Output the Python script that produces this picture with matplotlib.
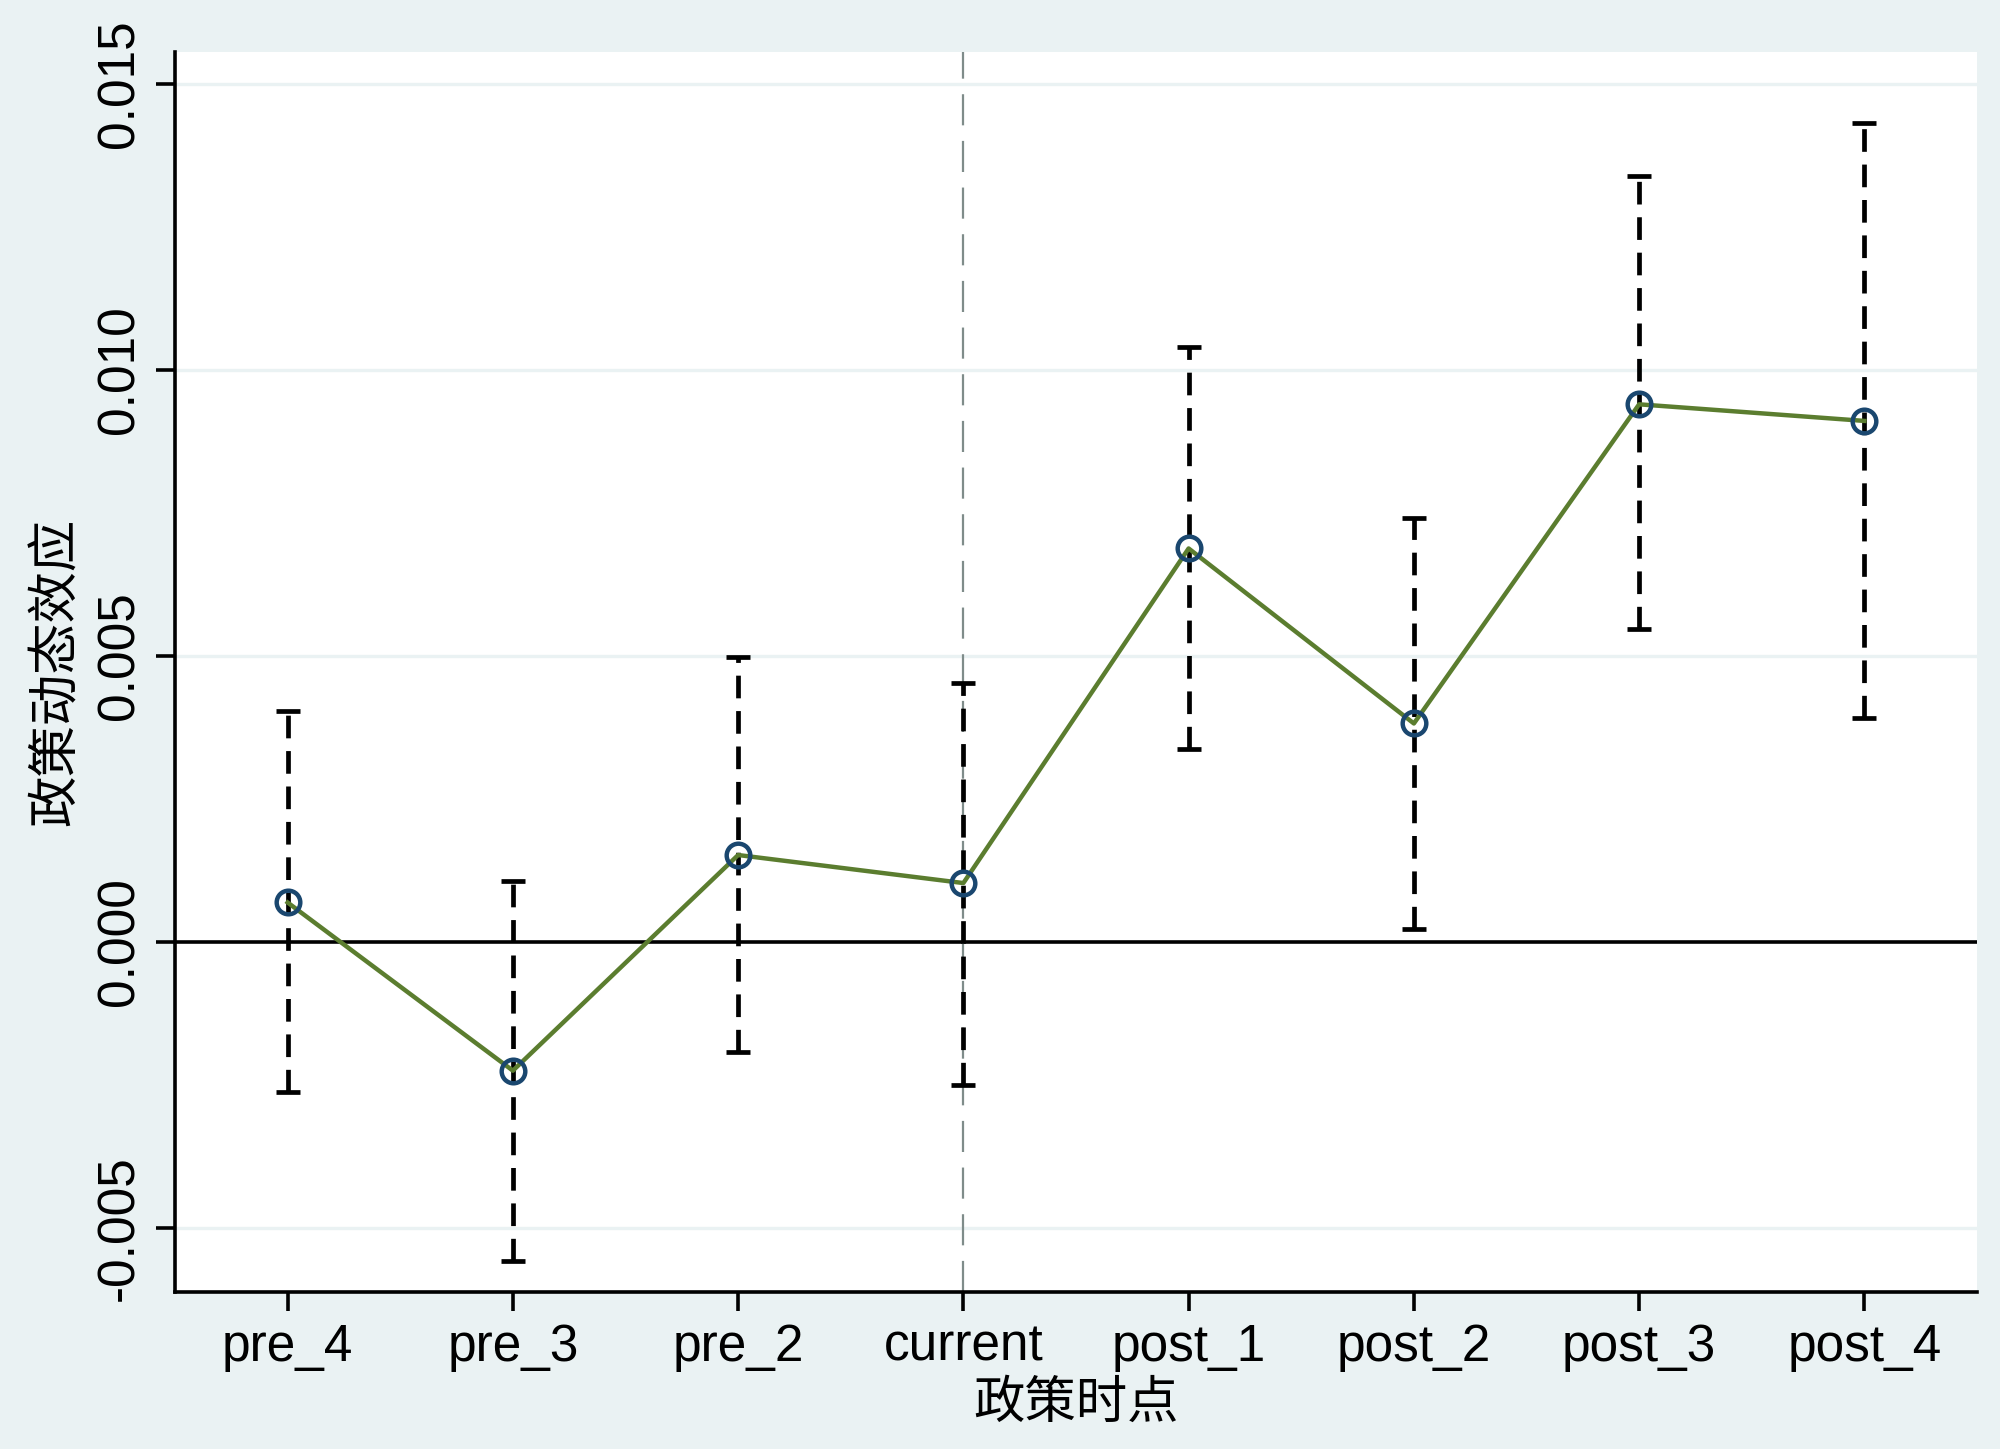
"""Event-study plot: dynamic policy effect with 95% CI, Stata s2color look."""

import matplotlib
matplotlib.use("Agg")
import matplotlib.pyplot as plt

periods = ["pre_4", "pre_3", "pre_2", "current", "post_1", "post_2", "post_3", "post_4"]
coef = [0.00069, -0.00225, 0.00152, 0.00103, 0.00688, 0.00382, 0.00940, 0.00911]
ci_low = [-0.00263, -0.00558, -0.00192, -0.00250, 0.00337, 0.00022, 0.00547, 0.00391]
ci_high = [0.00404, 0.00107, 0.00498, 0.00453, 0.01040, 0.00741, 0.01339, 0.01431]
yticks = [-0.005, 0.0, 0.005, 0.010, 0.015]
event_idx = 3  # "current"

BG = "#eaf2f3"
plt.rcParams["font.family"] = ["Liberation Sans", "Noto Sans CJK SC", "DejaVu Sans"]

fig = plt.figure(figsize=(20, 14.49), dpi=100, facecolor=BG)
ax = fig.add_axes([175 / 2000, 1 - 1292 / 1449, (1977 - 175) / 2000, (1292 - 52) / 1449])
ax.set_facecolor("white")

x = list(range(len(periods)))
for y in yticks:
    if y != 0:
        ax.axhline(y, color=BG, linewidth=2.4, zorder=0)
ax.axhline(0, color="black", linewidth=2.6, zorder=1)
ax.axvline(event_idx, color="#7f8c8a", linewidth=1.6, linestyle=(0, (14, 7)), zorder=1)

err = [[c - lo for c, lo in zip(coef, ci_low)], [hi - c for c, hi in zip(coef, ci_high)]]
eb = ax.errorbar(x, coef, yerr=err, fmt="none", ecolor="black", elinewidth=3.4,
                 capsize=8.5, capthick=3.4, zorder=2)
eb[2][0].set_linestyle((0, (4.8, 2.7)))

ax.plot(x, coef, color="#5b7d2f", linewidth=3.2, zorder=3)
ax.plot(x, coef, linestyle="none", marker="o", markersize=17, markerfacecolor="none",
        markeredgecolor="#1a476f", markeredgewidth=3.2, zorder=4)

ax.set_xlim(-0.5, 7.5)
ax.set_ylim(-0.00612, 0.01556)
ax.set_xticks(x)
ax.set_xticklabels(periods, fontsize=37)
ax.set_yticks(yticks)
ax.set_yticklabels([f"{v:.3f}" for v in yticks], fontsize=37, rotation=90, va="center")
ax.tick_params(axis="both", length=14, width=2.6, color="black", pad=8)

for side in ("top", "right"):
    ax.spines[side].set_visible(False)
for side in ("left", "bottom"):
    ax.spines[side].set_linewidth(2.6)

ax.set_xlabel("政策时点", fontsize=37, labelpad=6)
ax.set_ylabel("政策动态效应", fontsize=37, labelpad=10)

fig.savefig("out.png", dpi=100, facecolor=BG)
